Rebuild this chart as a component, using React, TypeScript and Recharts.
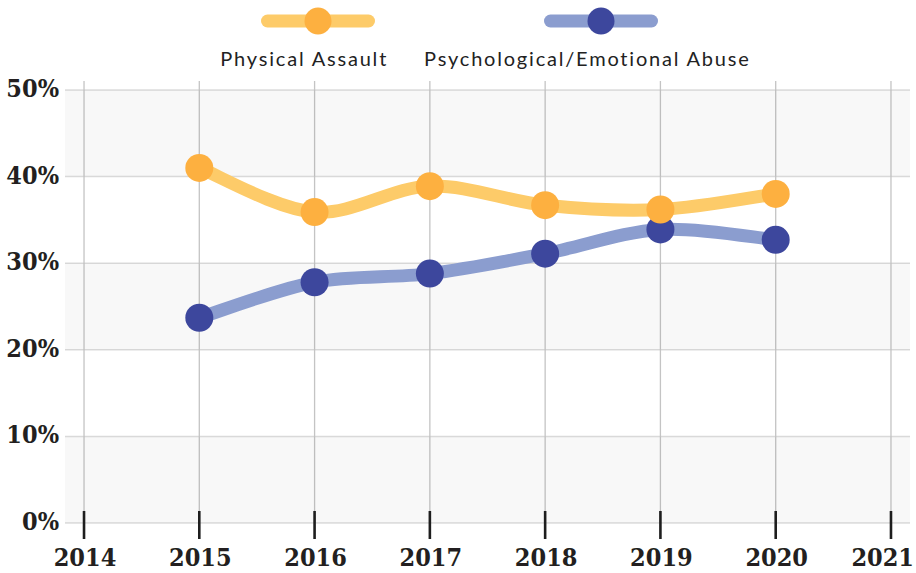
import React from 'react';
import { LineChart, Line, XAxis, YAxis, CartesianGrid, Legend, ReferenceArea } from 'recharts';

const years = [2015, 2016, 2017, 2018, 2019, 2020];
const physicalAssault = [41.0, 35.9, 38.9, 36.7, 36.2, 38.0];
const psychologicalAbuse = [23.7, 27.8, 28.8, 31.1, 33.9, 32.7];
const xTicks = [2014, 2015, 2016, 2017, 2018, 2019, 2020, 2021];
const xDomain = [2013.835, 2021.165];
const yTicks = [0, 10, 20, 30, 40, 50];
const shadedBands: [number, number][] = [
  [0, 10],
  [20, 30],
  [40, 50],
];
const legendOrder = ['Physical Assault', 'Psychological/Emotional Abuse'];

const dotColors: Record<string, string> = {
  'Physical Assault': '#FDB040',
  'Psychological/Emotional Abuse': '#3D479D',
};

const data = years.map((y, i) => ({
  year: y,
  physical: physicalAssault[i],
  psych: psychologicalAbuse[i],
}));

// Catmull-Rom style curve factory (passes through every point)
const smoothCurve = (context: any) => {
  let pts: [number, number][] = [];
  return {
    areaStart() {},
    areaEnd() {},
    lineStart() {
      pts = [];
    },
    point(x: number, y: number) {
      pts.push([+x, +y]);
    },
    lineEnd() {
      if (!pts.length) return;
      context.moveTo(pts[0][0], pts[0][1]);
      const t = 1 / 6;
      for (let i = 0; i < pts.length - 1; i++) {
        const p0 = pts[i - 1] || pts[i];
        const p1 = pts[i];
        const p2 = pts[i + 1];
        const p3 = pts[i + 2] || p2;
        context.bezierCurveTo(
          p1[0] + (p2[0] - p0[0]) * t,
          p1[1] + (p2[1] - p0[1]) * t,
          p2[0] - (p3[0] - p1[0]) * t,
          p2[1] - (p3[1] - p1[1]) * t,
          p2[0],
          p2[1]
        );
      }
    },
  };
};

const tickFont = "'DejaVu Serif Condensed', 'DejaVu Serif', serif";

const XTick = (props: any) => {
  const { x, y, payload } = props;
  const half = 31;
  const overflow = x + half > 914;
  return (
    <g>
      <line x1={x} x2={x} y1={y - 12} y2={y + 16} stroke="#1e1e1e" strokeWidth={2.6} />
      <text
        x={overflow ? 914 : x + 1}
        y={y + 43}
        textAnchor={overflow ? 'end' : 'middle'}
        fontFamily={tickFont}
        fontWeight={700}
        fontSize={25}
        fill="#231f20"
      >
        {payload.value}
      </text>
    </g>
  );
};

const YTick = (props: any) => {
  const { x, y, payload } = props;
  return (
    <text
      x={x - 6}
      y={y + 7}
      textAnchor="end"
      fontFamily={tickFont}
      fontWeight={700}
      fontSize={25}
      fill="#231f20"
    >
      {payload.value}%
    </text>
  );
};

const renderLegend = (props: any) => {
  const items = [...(props.payload || [])].sort(
    (a: any, b: any) => legendOrder.indexOf(a.value) - legendOrder.indexOf(b.value)
  );
  return (
    <div style={{ display: 'flex', justifyContent: 'center', paddingLeft: 55, gap: 36 }}>
      {items.map((it: any) => (
        <div
          key={it.value}
          style={{ display: 'flex', flexDirection: 'column', alignItems: 'center' }}
        >
          <svg width={114} height={28} style={{ marginLeft: 28, marginTop: 7, display: 'block' }}>
            <line
              x1={6.5}
              x2={107.5}
              y1={14}
              y2={14}
              stroke={it.color}
              strokeWidth={13}
              strokeLinecap="round"
            />
            <circle cx={57} cy={14} r={13.5} fill={dotColors[it.value]} />
          </svg>
          <span
            style={{
              marginTop: 11,
              fontFamily: 'Lato, sans-serif',
              fontSize: 20,
              letterSpacing: 1.8,
              lineHeight: '24px',
              color: '#222',
              whiteSpace: 'nowrap',
            }}
          >
            {it.value}
          </span>
        </div>
      ))}
    </div>
  );
};

export default function App() {
  return (
    <div style={{ position: 'absolute', left: 0, top: 0, width: 916, height: 573, background: '#fff' }}>
      <LineChart
        width={916}
        height={573}
        data={data}
        margin={{ top: 81, right: 6, bottom: 0, left: 0 }}
      >
        {shadedBands.map(([a, b]) => (
          <ReferenceArea key={a} y1={a} y2={b} fill="#000000" fillOpacity={0.026} stroke="none" />
        ))}
        <CartesianGrid vertical={false} syncWithTicks stroke="#dcdcdc" strokeWidth={1.5} />
        <CartesianGrid horizontal={false} syncWithTicks stroke="#c4c4c4" strokeWidth={1.3} />
        <XAxis
          dataKey="year"
          type="number"
          domain={xDomain}
          allowDataOverflow
          ticks={xTicks}
          axisLine={false}
          tickLine={false}
          tickSize={0}
          tickMargin={0}
          height={50}
          interval={0}
          tick={<XTick />}
        />
        <YAxis
          type="number"
          domain={[0, 50]}
          ticks={yTicks}
          padding={{ top: 9, bottom: 0 }}
          axisLine={false}
          tickLine={false}
          tickSize={0}
          tickMargin={0}
          width={65}
          interval={0}
          tick={<YTick />}
        />
        <Legend
          layout="horizontal"
          verticalAlign="middle"
          align="center"
          wrapperStyle={{ top: 0, left: 0, width: 916, height: 75 }}
          content={renderLegend}
        />
        <Line
          dataKey="psych"
          name="Psychological/Emotional Abuse"
          type={smoothCurve as any}
          stroke="#8B9DCF"
          strokeWidth={13}
          dot={{ r: 14, fill: '#3D479D', stroke: 'none', strokeWidth: 0 }}
          activeDot={false}
          isAnimationActive={false}
        />
        <Line
          dataKey="physical"
          name="Physical Assault"
          type={smoothCurve as any}
          stroke="#FDCB69"
          strokeWidth={13}
          dot={{ r: 14, fill: '#FDB040', stroke: 'none', strokeWidth: 0 }}
          activeDot={false}
          isAnimationActive={false}
        />
      </LineChart>
    </div>
  );
}
